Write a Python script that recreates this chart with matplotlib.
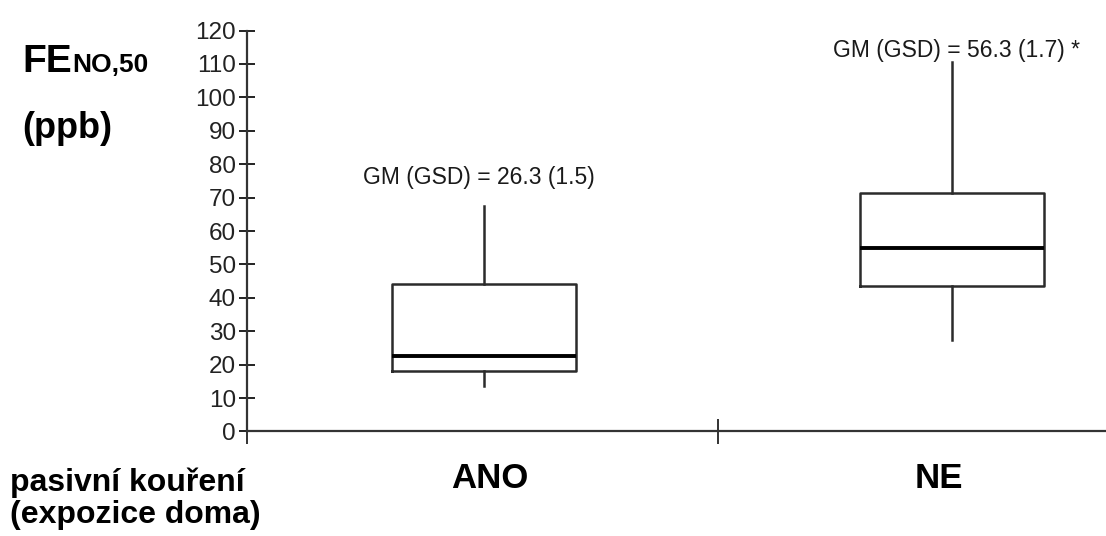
import matplotlib
matplotlib.use('Agg')

import matplotlib.pyplot as plt

plt.rcParams['font.family'] = ['Liberation Sans', 'DejaVu Sans']

# FeNO by passive smoking exposure at home
groups = ['ANO', 'NE']
q1 = [18, 43.5]
median = [22.5, 55]
q3 = [44, 71.5]
whisker_low = [13.5, 27.5]
whisker_high = [67.5, 110.5]
gm_labels = ['GM (GSD) = 26.3 (1.5)', 'GM (GSD) = 56.3 (1.7) *']
y_ticks = list(range(0, 121, 10))

stats = []
for i, name in enumerate(groups):
    stats.append({'label': name, 'med': median[i], 'q1': q1[i], 'q3': q3[i],
                  'whislo': whisker_low[i], 'whishi': whisker_high[i], 'fliers': []})

fig = plt.figure(figsize=(11.06, 5.36), dpi=100)
ax = fig.add_axes([0.2233, 0.195, 0.7767, 0.748])

line_col = '#2b2b2b'
ax.bxp(stats, positions=[1, 2], widths=0.395, showcaps=False, showfliers=False,
       boxprops=dict(color=line_col, linewidth=1.8),
       whiskerprops=dict(color=line_col, linewidth=1.8),
       medianprops=dict(color='black', linewidth=2.8))

# GM (GSD) annotation just above each upper whisker
gm_offset = [5.2, 0.2]
gm_x = [0.99, 2.01]
for i in range(len(groups)):
    ax.text(gm_x[i], whisker_high[i] + gm_offset[i], gm_labels[i], ha='center', va='bottom',
            fontsize=16.5, color='#1a1a1a')

ax.set_xlim(0.4936, 2.329)
ax.set_ylim(0, 120)
ax.spines['top'].set_visible(False)
ax.spines['right'].set_visible(False)
for side in ['left', 'bottom']:
    ax.spines[side].set_linewidth(1.6)
    ax.spines[side].set_color('#333333')

ax.set_yticks(y_ticks)
ax.set_yticklabels([str(t) for t in y_ticks], fontsize=17.5)
ax.tick_params(axis='y', direction='inout', length=12, width=1.4, pad=2, colors='#222222')

# major x ticks: the group divider plus the stub below the y axis
ax.set_xticks([0.4936, 1.5])
ax.set_xticklabels(['', ''])
ax.tick_params(axis='x', which='major', direction='inout', length=18, width=1.4, color='#333333')
ax.set_xticks([1.013, 1.971], minor=True)
ax.set_xticklabels(groups, minor=True, fontsize=25, fontweight='bold')
ax.tick_params(axis='x', which='minor', length=0, pad=22)

# y-axis title and x-axis caption placed in figure pixels
fig.text(22 / 1106, 1 - 72 / 536, 'FE', fontsize=28, fontweight='bold', va='baseline')
fig.text(72 / 1106, 1 - 72 / 536, 'NO,50', fontsize=19, fontweight='bold', va='baseline')
fig.text(22 / 1106, 1 - 138 / 536, '(ppb)', fontsize=26, fontweight='bold', va='baseline')
fig.text(10 / 1106, 1 - 491 / 536, 'pasivní kouření', fontsize=23, fontweight='bold', va='baseline')
fig.text(10 / 1106, 1 - 523 / 536, '(expozice doma)', fontsize=23, fontweight='bold', va='baseline')

fig.savefig('out.png', dpi=100)
plt.close(fig)
